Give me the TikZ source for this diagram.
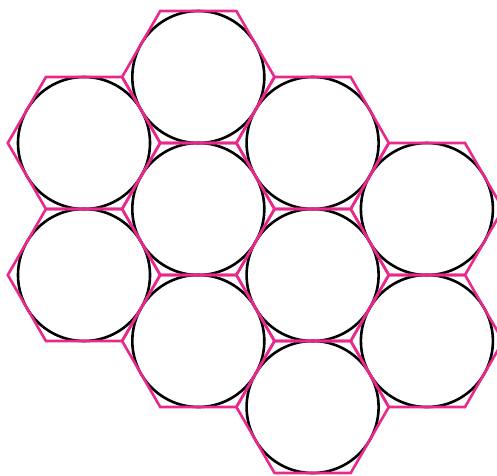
\documentclass[tikz,border=0pt]{standalone}
\definecolor{hexpink}{RGB}{233,40,140}
\tikzset{
  hexline/.style={draw=hexpink, line width=2.6pt, line join=miter},
  circline/.style={draw=black, line width=2.6pt}
}
\begin{document}
\begin{tikzpicture}[x=1pt,y=-1pt]
\useasboundingbox (0,0) rectangle (497,475);
\def\R{76.2}
\def\A{66}
\foreach \cx/\cy in {84/143, 84/275, 198.3/77, 198.3/209, 198.3/341, 312.6/143, 312.6/275, 312.6/407, 426.9/209, 426.9/341}{
  \draw[circline] (\cx,\cy) circle (66);
}
\foreach \cx/\cy in {84/143, 84/275, 198.3/77, 198.3/209, 198.3/341, 312.6/143, 312.6/275, 312.6/407, 426.9/209, 426.9/341}{
  \draw[hexline] (\cx,\cy) ++(\R,0) -- ++(-\R/2,\A) -- ++(-\R,0) -- ++(-\R/2,-\A) -- ++(\R/2,-\A) -- ++(\R,0) -- cycle;
}
\end{tikzpicture}
\end{document}
